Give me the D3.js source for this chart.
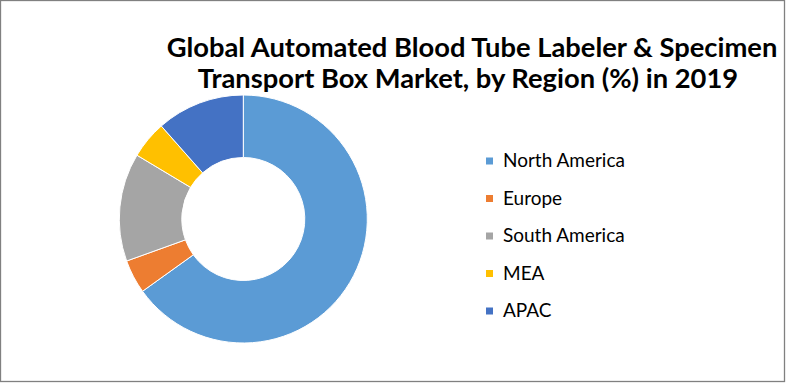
<!DOCTYPE html>
<html>
<head>
<meta charset="utf-8">
<script src="https://cdn.jsdelivr.net/npm/d3@7"></script>
<style>
  html, body { margin: 0; padding: 0; background: #fff; }
  svg { display: block; }
</style>
</head>
<body>
<svg id="chart" width="786" height="383"></svg>
<script>
const regions = ["North America", "Europe", "South America", "MEA", "APAC"];
const shares = [65.1, 4.4, 14.1, 4.9, 11.5];
const colors = ["#5B9BD5", "#ED7D31", "#A5A5A5", "#FFC000", "#4472C4"];
const titleLines = ["Global Automated Blood Tube Labeler & Specimen", "Transport Box Market, by Region (%) in 2019"];

const svg = d3.select("#chart");
const W = 786, H = 383;

svg.append("rect").attr("x", 0.5).attr("y", 0.5).attr("width", W - 2).attr("height", H - 2)
  .attr("fill", "#fff").attr("stroke", "#808080").attr("stroke-width", 1.3);

const data = regions.map((r, i) => ({ region: r, value: shares[i], color: colors[i] }));
const color = d3.scaleOrdinal().domain(regions).range(colors);

const pie = d3.pie().value(d => d.value).sort(null);
const arc = d3.arc().innerRadius(61.5).outerRadius(124);

const g = svg.append("g").attr("transform", "translate(243.3,219)");
g.selectAll("path").data(pie(data)).join("path")
  .attr("d", arc)
  .attr("fill", d => color(d.data.region))
  .attr("stroke", "#fff").attr("stroke-width", 1);

// Title
const font = "Lato, 'Open Sans', 'Liberation Sans', sans-serif";
const title = svg.append("text")
  .attr("text-anchor", "middle")
  .attr("font-family", font)
  .attr("font-weight", "bold")
  .attr("fill", "#000");
const tl1 = title.append("tspan").attr("x", 472).attr("y", 57).text(titleLines[0]);
const tl2 = title.append("tspan").attr("x", 468).attr("y", 88).text(titleLines[1]);
// fit font size so first line spans ~611px
title.attr("font-size", 20);
const w1 = tl1.node().getComputedTextLength();
title.attr("font-size", 20 * 611 / w1);

// Legend
const legend = svg.append("g");
const ly = d3.scalePoint().domain(regions).range([161, 311]);
const items = legend.selectAll("g").data(regions).join("g")
  .attr("transform", d => `translate(486,${ly(d)})`);
items.append("rect").attr("x", 0).attr("y", -3.5).attr("width", 7).attr("height", 7)
  .attr("fill", d => color(d));
const lt = items.append("text").attr("x", 17).attr("y", 6)
  .attr("font-family", font)
  .attr("fill", "#000")
  .text(d => d);
lt.attr("font-size", 16);
const wNA = lt.filter(d => d === "North America").node().getComputedTextLength();
lt.attr("font-size", 16 * 122 / wNA);
</script>
</body>
</html>
